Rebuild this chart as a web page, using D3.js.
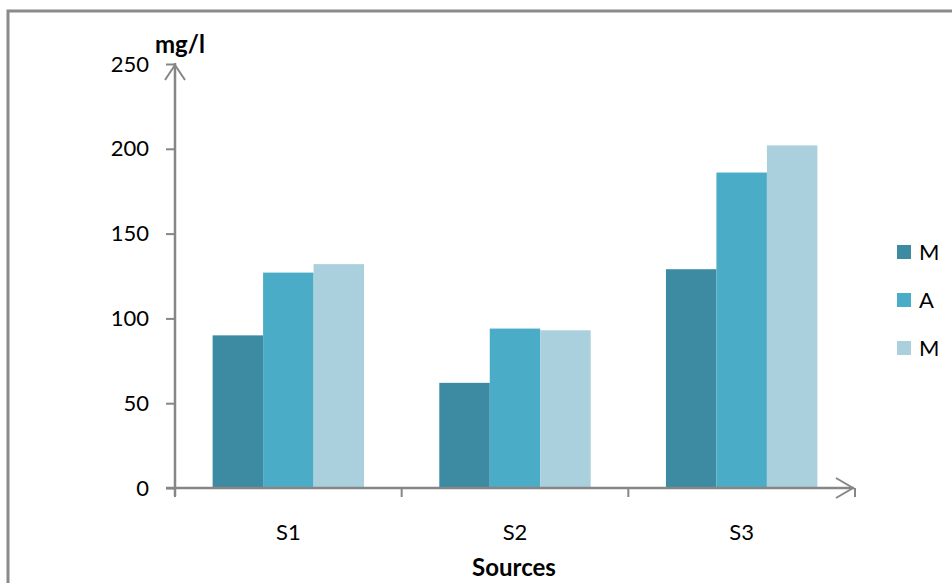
<!DOCTYPE html>
<html>
<head>
<meta charset="utf-8">
<script src="https://cdn.jsdelivr.net/npm/d3@7"></script>
<style>
  html, body { margin: 0; padding: 0; background: #fff; }
  svg { display: block; }
  text { font-family: Lato, "Open Sans", sans-serif; fill: #000; }
</style>
</head>
<body>
<svg id="chart" width="952" height="583"></svg>
<script>
// Concentration per source, mg/l
const categories = ["S1", "S2", "S3"];
const seriesNames = ["M", "A", "M"];
const seriesColors = ["#3c8ba3", "#4aacc6", "#aacfdd"];
const seriesMin = [90, 62, 129];
const seriesAvg = [127, 94, 186];
const seriesMax = [132, 93, 202];
const yTicks = [0, 50, 100, 150, 200, 250];

const series = [seriesMin, seriesAvg, seriesMax];

const svg = d3.select("#chart");
const axisColor = "#868686";

// outer frame
svg.append("rect")
  .attr("x", 8).attr("y", 11)
  .attr("width", 960).attr("height", 600)
  .attr("fill", "none")
  .attr("stroke", "#8a8a8a")
  .attr("stroke-width", 3);

const plot = { left: 175, right: 855, top: 64, bottom: 488 };

const x0 = d3.scaleBand()
  .domain(categories)
  .range([plot.left, plot.right])
  .paddingInner(0)
  .paddingOuter(0);

const groupPad = 0.166;
const x1 = d3.scaleBand()
  .domain(d3.range(series.length))
  .range([x0.bandwidth() * groupPad, x0.bandwidth() * (1 - groupPad)]);

const y = d3.scaleLinear().domain([0, 250]).range([plot.bottom, plot.top]);

// bars
const groups = svg.append("g").selectAll("g")
  .data(categories)
  .join("g")
  .attr("transform", d => `translate(${x0(d)},0)`);

groups.selectAll("rect")
  .data((c, ci) => series.map((s, si) => ({ si, v: s[ci] })))
  .join("rect")
  .attr("x", d => x1(d.si))
  .attr("width", x1.bandwidth())
  .attr("y", d => y(d.v))
  .attr("height", d => y(0) - y(d.v))
  .attr("fill", d => seriesColors[d.si]);

// y axis
const yAxis = d3.axisLeft(y)
  .tickValues(yTicks)
  .tickSize(9)
  .tickPadding(17)
  .tickFormat(d3.format("d"));

const gy = svg.append("g")
  .attr("transform", `translate(${plot.left},0)`)
  .call(yAxis);
gy.select(".domain").remove();
gy.selectAll(".tick line").attr("stroke", axisColor).attr("stroke-width", 2);
gy.selectAll(".tick text")
  .style("font-size", "22px")
  .style("fill", "#000");

svg.append("line")
  .attr("x1", plot.left).attr("x2", plot.left)
  .attr("y1", plot.bottom + 8).attr("y2", plot.top - 1)
  .attr("stroke", axisColor).attr("stroke-width", 2.5);
svg.append("path")
  .attr("d", `M${plot.left - 10},${plot.top + 16}L${plot.left},${plot.top + 1}L${plot.left + 10},${plot.top + 16}`)
  .attr("fill", "none").attr("stroke", axisColor).attr("stroke-width", 2);

// x axis
const xAxis = d3.axisBottom(x0).tickSize(0).tickPadding(36);
const gx = svg.append("g")
  .attr("transform", `translate(0,${plot.bottom})`)
  .call(xAxis);
gx.select(".domain").remove();
gx.selectAll(".tick text")
  .style("font-size", "22px")
  .style("fill", "#000");

svg.append("line")
  .attr("x1", plot.left - 9).attr("x2", plot.right - 1)
  .attr("y1", plot.bottom).attr("y2", plot.bottom)
  .attr("stroke", axisColor).attr("stroke-width", 2.5);
svg.append("path")
  .attr("d", `M${plot.right - 19},${plot.bottom - 10}L${plot.right - 2},${plot.bottom}L${plot.right - 19},${plot.bottom + 10}`)
  .attr("fill", "none").attr("stroke", axisColor).attr("stroke-width", 2);

// category boundary ticks
const boundaries = categories.map(c => x0(c)).concat([x0(categories[categories.length - 1]) + x0.bandwidth()]);
svg.append("g").selectAll("line")
  .data(boundaries)
  .join("line")
  .attr("x1", d => d).attr("x2", d => d)
  .attr("y1", plot.bottom).attr("y2", plot.bottom + 9)
  .attr("stroke", axisColor).attr("stroke-width", 2);

// axis titles
svg.append("text")
  .attr("x", 155).attr("y", 53)
  .style("font-size", "24px")
  .style("font-weight", "bold")
  .text("mg/l");

svg.append("text")
  .attr("x", (plot.left + plot.right) / 2 - 1).attr("y", 576)
  .attr("text-anchor", "middle")
  .style("font-size", "24px")
  .style("font-weight", "bold")
  .text("Sources");

// legend
const legend = svg.append("g").selectAll("g")
  .data(seriesNames)
  .join("g")
  .attr("transform", (d, i) => `translate(897,${252 + i * 48})`);
legend.append("rect")
  .attr("x", 0).attr("y", -7)
  .attr("width", 14).attr("height", 14)
  .attr("fill", (d, i) => seriesColors[i]);
legend.append("text")
  .attr("x", 22).attr("y", 8)
  .style("font-size", "22px")
  .text(d => d);
</script>
</body>
</html>
